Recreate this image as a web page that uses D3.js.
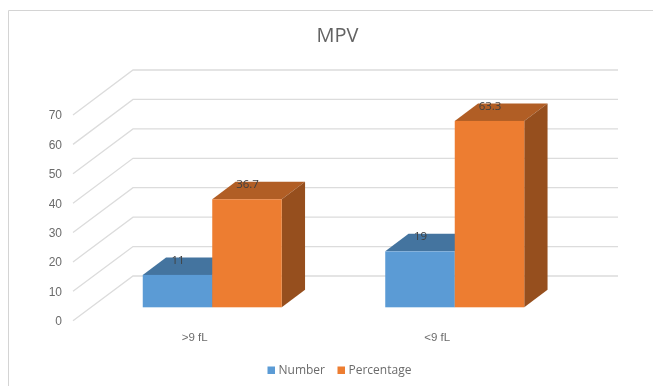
<!DOCTYPE html>
<html>
<head>
<meta charset="utf-8">
<script src="https://cdn.jsdelivr.net/npm/d3@7"></script>
<style>
  html, body { margin: 0; padding: 0; background: #fff; }
  /* the reference is a soft upscaled screenshot */
  svg { display: block; font-family: "Open Sans", sans-serif; filter: blur(0.35px); }
</style>
</head>
<body>
<div id="chart"></div>
<script>
const CATEGORIES = [">9 fL", "<9 fL"];
const SERIES = ["Number", "Percentage"];
const NUMBER_VALUES = [11, 19];
const PERCENTAGE_VALUES = [36.7, 63.3];
const Y_TICKS = [0, 10, 20, 30, 40, 50, 60, 70];

const width = 653, height = 386;

// box shape of the fake 3d: front face to back wall, and bar depth
const wall = { left: 73, back: 133, right: 618 };
const depth = { dx: 23.3, dy: 17.5 };

const svg = d3.select("#chart").append("svg")
  .attr("width", width)
  .attr("height", height);

// ── Scales ──────────────────────────────────────────────────────────
const yFront = d3.scaleLinear().domain([0, 70]).range([320.7, 115]);
const yBack  = d3.scaleLinear().domain([0, 70]).range([276, 70]);
const yBar   = d3.scaleLinear().domain([0, 70]).range([307.3, 101.2]);

const x = d3.scaleBand().domain(CATEGORIES).range([91, 576]);
const xInner = d3.scaleBand().domain(SERIES)
  .range([x.bandwidth() / 2 - 69.5, x.bandwidth() / 2 + 69.5]);

// chart area border, runs off the top right and bottom of the crop
svg.append("path")
  .attr("d", d3.line()([[8.5, height], [8.5, 10.5], [width, 10.5]]))
  .attr("fill", "none")
  .attr("stroke", "#d4d4d4")
  .attr("stroke-width", 1);

// ── Gridlines: side wall diagonal then back wall ────────────────────
svg.append("g").selectAll("path")
  .data(Y_TICKS)
  .enter().append("path")
    .attr("d", d => d3.line()([
      [wall.left, yFront(d)],
      [wall.back, yBack(d)],
      [wall.right, yBack(d)]
    ]))
    .attr("fill", "none")
    .attr("stroke", "#dcdcdc")
    .attr("stroke-width", 1.3);

// ── Axes ────────────────────────────────────────────────────────────
const yAxisG = svg.append("g")
  .attr("transform", "translate(66,0)")
  .call(d3.axisLeft(yFront).tickValues(Y_TICKS).tickSize(0).tickPadding(4));
yAxisG.select("path.domain").remove();
yAxisG.selectAll("text")
  .style("font-size", "12px")
  .style("font-family", "inherit")
  .style("fill", "#6b6b6b");

// category labels sit left of the bar pair centre in the reference
const xAxisG = svg.append("g")
  .attr("transform", "translate(-17.5,332.5)")
  .call(d3.axisBottom(x).tickSize(0).tickPadding(0));
xAxisG.select("path.domain").remove();
xAxisG.selectAll("text")
  .style("font-size", "11.5px")
  .style("font-family", "inherit")
  .style("fill", "#6b6b6b");

// ── Bars ────────────────────────────────────────────────────────────
const seriesInfo = [
  { name: "Number", values: NUMBER_VALUES, front: "#5b9bd5", top: "#44749f", side: "#3a6791" },
  { name: "Percentage", values: PERCENTAGE_VALUES, front: "#ed7d31", top: "#b15e25", side: "#964f1e" }
];

CATEGORIES.forEach((cat, i) => {
  seriesInfo.forEach(s => {
    const x0 = x(cat) + xInner(s.name);
    const x1 = x0 + xInner.bandwidth();
    const yTop = yBar(s.values[i]);
    const yBase = yBar(0);
    const g = svg.append("g").attr("class", "bar");

    g.append("path") // top
      .attr("d", d3.line()([
        [x0, yTop], [x1, yTop],
        [x1 + depth.dx, yTop - depth.dy], [x0 + depth.dx, yTop - depth.dy]
      ]) + "Z")
      .attr("fill", s.top);
    g.append("path") // side
      .attr("d", d3.line()([
        [x1, yTop], [x1 + depth.dx, yTop - depth.dy],
        [x1 + depth.dx, yBase - depth.dy], [x1, yBase]
      ]) + "Z")
      .attr("fill", s.side);
    g.append("rect") // front
      .attr("x", x0)
      .attr("y", yTop)
      .attr("width", x1 - x0)
      .attr("height", yBase - yTop)
      .attr("fill", s.front);
  });
});

// data labels go on last so the orange bars don't cover them
CATEGORIES.forEach((cat, i) => {
  seriesInfo.forEach(s => {
    svg.append("text")
      .attr("x", x(cat) + xInner(s.name) + xInner.bandwidth() / 2 + 0.5)
      .attr("y", yBar(s.values[i]) - 15)
      .attr("dy", "0.35em")
      .attr("text-anchor", "middle")
      .style("font-size", "11.5px")
      .style("fill", "#404040")
      .text(s.values[i]);
  });
});

// ── Title ───────────────────────────────────────────────────────────
svg.append("text")
  .attr("x", 337.5)
  .attr("y", 42)
  .attr("text-anchor", "middle")
  .style("font-size", "20px")
  .style("fill", "#636363")
  .text("MPV");

// ── Legend ──────────────────────────────────────────────────────────
const legendX = { Number: 267.5, Percentage: 337.5 };
seriesInfo.forEach(s => {
  svg.append("rect")
    .attr("x", legendX[s.name])
    .attr("y", 366.5)
    .attr("width", 7.5)
    .attr("height", 7.5)
    .attr("fill", s.front);
  svg.append("text")
    .attr("x", legendX[s.name] + 11)
    .attr("y", 370)
    .attr("dy", "0.35em")
    .style("font-size", "12px")
    .style("fill", "#6b6b6b")
    .text(s.name);
});
</script>
</body>
</html>
